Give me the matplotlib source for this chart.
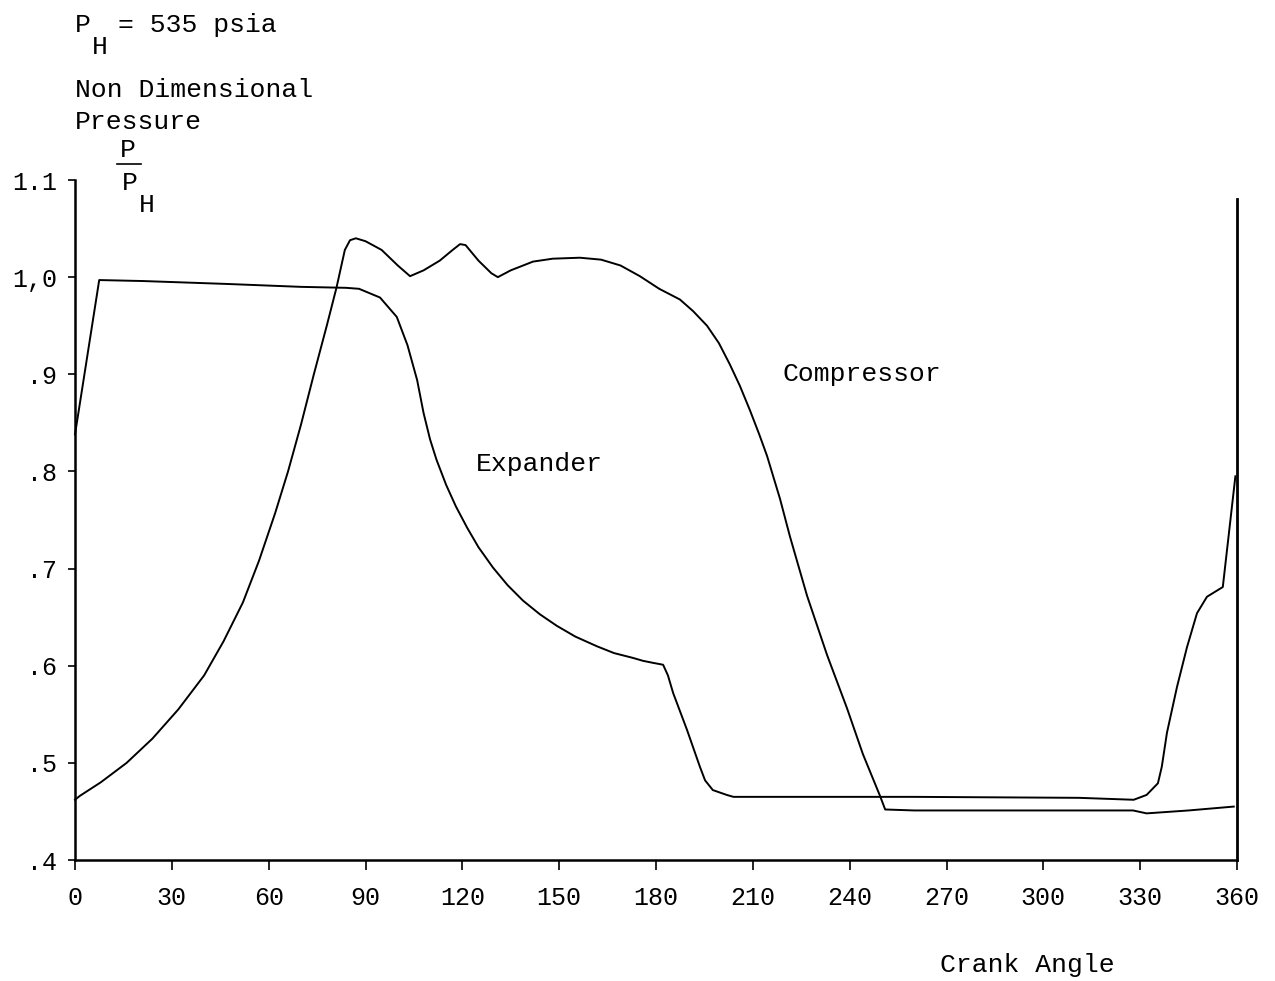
import matplotlib
matplotlib.use("Agg")
import matplotlib.pyplot as plt
import numpy as np
from matplotlib.lines import Line2D

plt.rcParams['font.family'] = ['Liberation Mono', 'DejaVu Sans Mono']

# crank angle (deg) vs non dimensional pressure P/PH
comp_deg = [0, 1.5, 8, 16, 24, 32, 40, 46, 52, 57, 62, 66, 70, 74, 78, 81,
            83.6, 85.2, 87, 90, 95, 100, 103.8, 108, 113, 117, 119.3, 121,
            125, 129, 131, 135, 141.9, 148, 156.4, 163, 169, 175, 181, 187.4,
            191.5, 195.8, 199.5, 202.9, 206, 209.1, 212, 214.4, 218.4, 221.5,
            226.8, 233, 239.2, 244.1, 249.4, 251, 260, 300, 327.8, 332, 345, 359]
comp_p = [0.462, 0.466, 0.480, 0.500, 0.525, 0.555, 0.590, 0.625, 0.665, 0.708,
          0.757, 0.800, 0.848, 0.900, 0.950, 0.989, 1.028, 1.038, 1.040, 1.037,
          1.028, 1.012, 1.001, 1.007, 1.017, 1.028, 1.034, 1.033, 1.017, 1.004,
          1.000, 1.007, 1.016, 1.019, 1.020, 1.018, 1.012, 1.001, 0.988, 0.977,
          0.965, 0.950, 0.932, 0.910, 0.888, 0.863, 0.838, 0.816, 0.772, 0.733,
          0.672, 0.611, 0.556, 0.509, 0.466, 0.452, 0.451, 0.451, 0.451, 0.448,
          0.451, 0.455]

exp_deg = [0, 7.5, 21, 47, 70, 84, 88, 94.5, 99.7, 103, 106, 108, 110, 112,
           115, 118, 121.5, 125, 129.5, 134, 138.8, 144, 149.3, 155, 161.7,
           167, 172.9, 176, 179, 182.2, 183.7, 185.3, 189.6, 193.6, 195.2,
           197.6, 201.9, 204, 260, 311, 328, 332, 335.5, 336.7, 338.3, 341.4,
           344.5, 347.6, 350.7, 355.6, 359.5]
exp_p = [0.838, 0.997, 0.996, 0.993, 0.990, 0.989, 0.988, 0.979, 0.959, 0.930,
         0.894, 0.860, 0.833, 0.812, 0.786, 0.764, 0.742, 0.722, 0.701, 0.683,
         0.667, 0.653, 0.641, 0.630, 0.620, 0.613, 0.608, 0.605, 0.603, 0.601,
         0.590, 0.572, 0.534, 0.496, 0.482, 0.472, 0.467, 0.465, 0.465, 0.464,
         0.462, 0.467, 0.479, 0.496, 0.531, 0.578, 0.619, 0.654, 0.671, 0.681,
         0.795]

# vertical stroke at the end of the cycle
edge_deg = [360, 360]
edge_p = [0.4, 1.08]

xticks = [0, 30, 60, 90, 120, 150, 180, 210, 240, 270, 300, 330, 360]
yticks = [0.4, 0.5, 0.6, 0.7, 0.8, 0.9, 1.0, 1.1]
ylabels = ['.4', '.5', '.6', '.7', '.8', '.9', '1,0', '1.1']

W, H = 1275, 981
fig = plt.figure(figsize=(W / 100, H / 100), dpi=100)
ax = fig.add_axes([75 / W, 1 - 860 / H, (1237 - 75) / W, (860 - 180) / H])

ax.plot(comp_deg, comp_p, color='black', lw=1.4, clip_on=False)
ax.plot(exp_deg, exp_p, color='black', lw=1.4, clip_on=False)
ax.plot(edge_deg, edge_p, color='black', lw=2.0, clip_on=False)

ax.set_xlim(0, 360)
ax.set_ylim(0.4, 1.1)
ax.set_xticks(xticks)
ax.set_xticklabels([str(t) for t in xticks])
ax.set_yticks(yticks)
ax.set_yticklabels(ylabels)
ax.tick_params(axis='x', direction='out', length=7, width=1.2, pad=12, labelsize=18)
ax.tick_params(axis='y', direction='out', length=5, width=1.2, pad=8, labelsize=18)
for s in ['top', 'right']:
    ax.spines[s].set_visible(False)
for s in ['left', 'bottom']:
    ax.spines[s].set_linewidth(1.8)

ax.text(219.3, 0.90, 'Compressor', fontsize=19, ha='left', va='center')
ax.text(124.2, 0.808, 'Expander', fontsize=19, ha='left', va='center')


def ftext(x, y, s, **kw):
    fig.text(x / W, 1 - y / H, s, fontsize=19, va='center', **kw)


ftext(75, 25, 'P')
ftext(92, 47, 'H')
ftext(118, 25, '= 535 psia')
ftext(75, 90, 'Non Dimensional')
ftext(75, 122, 'Pressure')
ftext(120, 150, 'P')
fig.add_artist(Line2D([117 / W, 141 / W], [1 - 164 / H, 1 - 164 / H],
                      color='black', lw=1.2))
ftext(122, 183, 'P')
ftext(139, 205, 'H')
ftext(940, 965, 'Crank Angle')

fig.savefig('out.png', dpi=100, facecolor='white')
